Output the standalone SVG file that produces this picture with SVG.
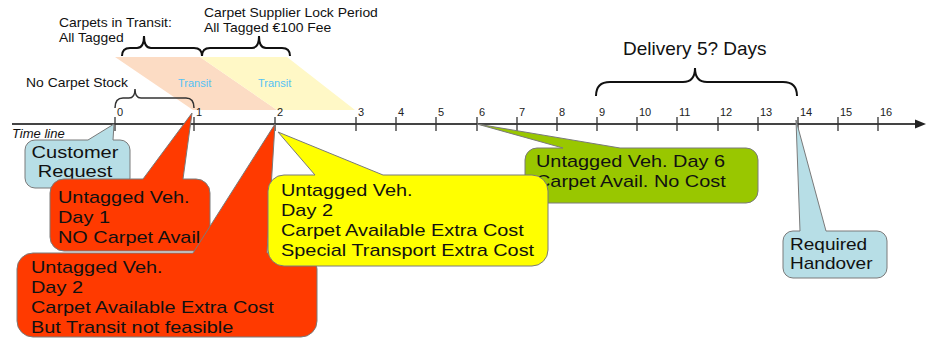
<svg xmlns="http://www.w3.org/2000/svg" width="927" height="339" viewBox="0 0 927 339">
<style>
.lbl{font-family:"Liberation Sans",Arial,sans-serif;font-size:13px;fill:#111}
.num{font-family:"Liberation Sans",Arial,sans-serif;font-size:11px;fill:#222}
.ct{font-family:"Liberation Sans",Arial,sans-serif;font-size:17px;fill:#111}
.tr{font-family:"Liberation Sans",Arial,sans-serif;font-size:11px;fill:#55C2F5}
.brace{fill:none;stroke:#111;stroke-width:2}
.tick{stroke:#333;stroke-width:1.3}
.co{stroke:#7a7a7a;stroke-width:1}
</style>
<rect width="927" height="339" fill="#fff"/>
<g id="transit">
<polygon points="115,57 200,57 277,110 193,110" fill="#FCDCC4"/>
<polygon points="200,57 287,57 355,110 277,110" fill="#FFF8C6"/>
<text class="tr" x="178" y="87">Transit</text>
<text class="tr" x="258" y="87">Transit</text>
</g>
<g id="braces">
<path class="brace" d="M122,56 Q122,48 130,48 L137,48 Q144,48 144,36 Q144,48 151,48 L194,48 Q202,48 202,56"/>
<path class="brace" d="M202,56 Q202,48 210,48 L252,48 Q259,48 259,36 Q259,48 266,48 L282,48 Q290,48 290,56"/>
<path class="brace" d="M596,96 Q596,82 610,82 L683,82 Q695,82 695,68 Q695,82 707,82 L783,82 Q797,82 797,96"/>
<path class="brace" style="stroke:#333;stroke-width:1.5" d="M115,108 Q115,98 123,98 L129,98 Q135,98 135,89 Q135,98 141,98 L186,98 Q194,98 194,108"/>
</g>
<g id="labels">
<text class="lbl" transform="translate(59,27) scale(1.07,1)"><tspan x="0" y="0">Carpets in Transit:</tspan><tspan x="0" y="15">All Tagged</tspan></text>
<text class="lbl" transform="translate(204,17) scale(1.07,1)"><tspan x="0" y="0">Carpet Supplier Lock Period</tspan><tspan x="0" y="15">All Tagged €100 Fee</tspan></text>
<text class="lbl" transform="translate(26,87) scale(1.07,1)">No Carpet Stock</text>
<text class="lbl" x="623" y="55" style="font-size:19px">Delivery 5? Days</text>
<text class="lbl" x="12" y="138" style="font-size:13px;font-style:italic">Time line</text>
</g>
<g id="timeline">
<line x1="12" y1="124" x2="918" y2="124" stroke="#444" stroke-width="2"/>
<polygon points="915,119.5 926,124 915,128.5" fill="#222"/>
<g class="tick">
<line x1="115" y1="117" x2="115" y2="131"/><line x1="194" y1="117" x2="194" y2="131"/><line x1="275" y1="117" x2="275" y2="131"/><line x1="356" y1="117" x2="356" y2="131"/><line x1="396" y1="117" x2="396" y2="131"/><line x1="436" y1="117" x2="436" y2="131"/><line x1="477" y1="117" x2="477" y2="131"/><line x1="517" y1="117" x2="517" y2="131"/><line x1="557" y1="117" x2="557" y2="131"/><line x1="597" y1="117" x2="597" y2="131"/><line x1="637" y1="117" x2="637" y2="131"/><line x1="677" y1="117" x2="677" y2="131"/><line x1="718" y1="117" x2="718" y2="131"/><line x1="758" y1="117" x2="758" y2="131"/><line x1="798" y1="117" x2="798" y2="131"/><line x1="838" y1="117" x2="838" y2="131"/><line x1="878" y1="117" x2="878" y2="131"/>
</g>
<text class="num" x="117" y="116">0</text><text class="num" x="196" y="116">1</text><text class="num" x="277" y="116">2</text><text class="num" x="358" y="116">3</text><text class="num" x="398" y="116">4</text><text class="num" x="438" y="116">5</text><text class="num" x="479" y="116">6</text><text class="num" x="519" y="116">7</text><text class="num" x="559" y="116">8</text><text class="num" x="599" y="116">9</text><text class="num" x="639" y="116">10</text><text class="num" x="679" y="116">11</text><text class="num" x="720" y="116">12</text><text class="num" x="760" y="116">13</text><text class="num" x="800" y="116">14</text><text class="num" x="840" y="116">15</text><text class="num" x="880" y="116">16</text>
</g>
<g id="customer-request">
<path class="co" fill="#B7DEE6" d="M35,140 L88,140 L114,124 L113,140 L120,140 A10 10 0 0 1 130,150 L130,178 A10 10 0 0 1 120,188 L35,188 A10 10 0 0 1 25,178 L25,150 A10 10 0 0 1 35,140 Z"/>
<text class="ct" text-anchor="middle" transform="translate(75,158) scale(1.18,1)"><tspan x="0" y="0">Customer</tspan><tspan x="0" y="19">Request</tspan></text>
</g>
<g id="day1">
<path class="co" fill="#FF3A00" d="M64,179 L143,179 L192,113 L183,179 L196,179 A14 14 0 0 1 210,193 L210,237 A14 14 0 0 1 196,251 L64,251 A14 14 0 0 1 50,237 L50,193 A14 14 0 0 1 64,179 Z"/>
<text class="ct" transform="translate(58,203) scale(1.17,1)"><tspan x="0" y="0">Untagged Veh.</tspan><tspan x="0" y="20">Day 1</tspan><tspan x="0" y="40">NO Carpet Avail</tspan></text>
</g>
<g id="day2-red">
<path class="co" fill="#FF3A00" d="M33,253 L193,253 L275,124 L267,253 L301,253 A16 16 0 0 1 317,269 L317,321 A16 16 0 0 1 301,337 L33,337 A16 16 0 0 1 17,321 L17,269 A16 16 0 0 1 33,253 Z"/>
<text class="ct" transform="translate(31,273) scale(1.17,1)"><tspan x="0" y="0">Untagged Veh.</tspan><tspan x="0" y="20">Day 2</tspan><tspan x="0" y="40">Carpet Available Extra Cost</tspan><tspan x="0" y="60">But Transit not feasible</tspan></text>
</g>
<g id="day6">
<path class="co" fill="#99C700" d="M537,148 L563,148 L477,124 L620,148 L746,148 A12 12 0 0 1 758,160 L758,191 A12 12 0 0 1 746,203 L537,203 A12 12 0 0 1 525,191 L525,160 A12 12 0 0 1 537,148 Z"/>
<text class="ct" transform="translate(536,167) scale(1.17,1)"><tspan x="0" y="0">Untagged Veh. Day 6</tspan><tspan x="0" y="20">Carpet Avail. No Cost</tspan></text>
</g>
<g id="day2-yellow">
<path class="co" fill="#FFFF00" d="M284,175 L315,175 L278,132 L383,175 L532,175 A16 16 0 0 1 548,191 L548,250 A16 16 0 0 1 532,266 L284,266 A16 16 0 0 1 268,250 L268,191 A16 16 0 0 1 284,175 Z"/>
<text class="ct" transform="translate(281,196) scale(1.17,1)"><tspan x="0" y="0">Untagged Veh.</tspan><tspan x="0" y="20">Day 2</tspan><tspan x="0" y="40">Carpet Available Extra Cost</tspan><tspan x="0" y="60">Special Transport Extra Cost</tspan></text>
</g>
<g id="handover">
<path class="co" fill="#B7DEE6" d="M793,231 L800,231 L796,120 L826,231 L877,231 A10 10 0 0 1 887,241 L887,268 A10 10 0 0 1 877,278 L793,278 A10 10 0 0 1 783,268 L783,241 A10 10 0 0 1 793,231 Z"/>
<text class="ct" transform="translate(790,250) scale(1.12,1)"><tspan x="0" y="0">Required</tspan><tspan x="0" y="19">Handover</tspan></text>
</g>
</svg>
